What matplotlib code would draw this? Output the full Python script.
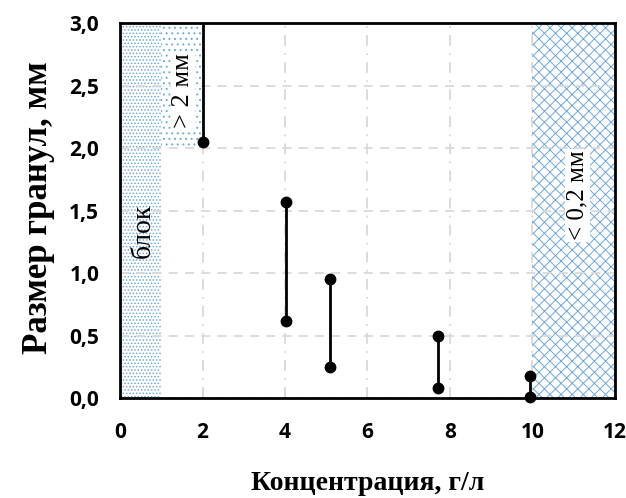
import matplotlib
matplotlib.use("Agg")
import matplotlib.pyplot as plt
from matplotlib.ticker import FuncFormatter

# Data
conc = [2.0, 4.03, 5.1, 7.7, 9.93]
size_low = [2.05, 0.62, 0.25, 0.08, 0.01]
size_high = [3.0, 1.57, 0.95, 0.50, 0.18]
show_high_marker = [False, True, True, True, True]

x_ticks = [0, 2, 4, 6, 8, 10, 12]
y_ticks = [0.0, 0.5, 1.0, 1.5, 2.0, 2.5, 3.0]

zone_block = (0, 1)
zone_big = (1, 2, 2.0, 3.0)
zone_small = (10, 12)

plt.rcParams['hatch.linewidth'] = 0.7
fig = plt.figure(figsize=(6.26, 4.98), dpi=100)
ax = fig.add_axes([0.1917, 0.2008, 0.7907, 0.753])

blue = '#6fa8dc'
ax.fill_between(zone_block, 0, 3, facecolor='white', edgecolor=blue, hatch='.....', linewidth=0, zorder=1)
ax.fill_between(zone_big[:2], zone_big[2], zone_big[3], facecolor='white', edgecolor=blue, hatch='...', linewidth=0, zorder=1)
ax.fill_between(zone_small, 0, 3, facecolor='white', edgecolor=blue, hatch='xxx', linewidth=0, zorder=1)

ax.grid(True, color='#d9d9d9', linewidth=1.3)
for gl in ax.get_xgridlines():
    gl.set_dashes([6, 4, 1, 4])
for gl in ax.get_ygridlines():
    gl.set_dashes([5, 4])
ax.set_axisbelow(False)
for gl in ax.get_xgridlines() + ax.get_ygridlines():
    gl.set_zorder(0.5)

ax.vlines(conc, size_low, size_high, color='black', linewidth=2, zorder=3)
ax.plot(conc, size_low, 'o', color='black', markersize=7.5, zorder=4, clip_on=False)
hx = [c for c, s in zip(conc, show_high_marker) if s]
hy = [h for h, s in zip(size_high, show_high_marker) if s]
ax.plot(hx, hy, 'o', color='black', markersize=7.5, zorder=4, clip_on=False)

ax.set_xlim(0, 12)
ax.set_ylim(0, 3)
ax.set_xticks(x_ticks)
ax.set_yticks(y_ticks)
ax.yaxis.set_major_formatter(FuncFormatter(lambda v, p: f"{v:.1f}".replace('.', ',')))
ax.tick_params(length=0, labelsize=15)
ax.tick_params(axis='x', pad=17)
ax.tick_params(axis='y', pad=15)
for lab in ax.get_xticklabels() + ax.get_yticklabels():
    lab.set_fontweight('bold')
    lab.set_fontfamily('Open Sans')

for sp in ax.spines.values():
    sp.set_linewidth(2)
    sp.set_color('black')
    sp.set_zorder(5)

serif = 'Liberation Serif'
ax.set_ylabel('Размер гранул, мм', fontfamily=serif, fontweight='bold', fontsize=25, va='center')
ax.yaxis.set_label_coords(-0.164, 0.507)
ax.set_xlabel('Концентрация, г/л', fontfamily=serif, fontweight='bold', fontsize=20, va='center')
ax.xaxis.set_label_coords(0.5, -0.227)

ax.text(0.56, 1.34, 'блок', rotation=90, ha='center', va='center', fontfamily=serif, fontsize=20, zorder=6)
ax.text(1.53, 2.46, '> 2 мм', rotation=90, ha='center', va='center', fontfamily=serif, fontsize=19, zorder=6,
        bbox=dict(facecolor='white', edgecolor='none', pad=1))
ax.text(11.08, 1.62, '< 0,2 мм', rotation=90, ha='center', va='center', fontfamily=serif, fontsize=18, zorder=6,
        bbox=dict(facecolor='white', edgecolor='none', pad=1))

fig.savefig('out.png', dpi=100)
